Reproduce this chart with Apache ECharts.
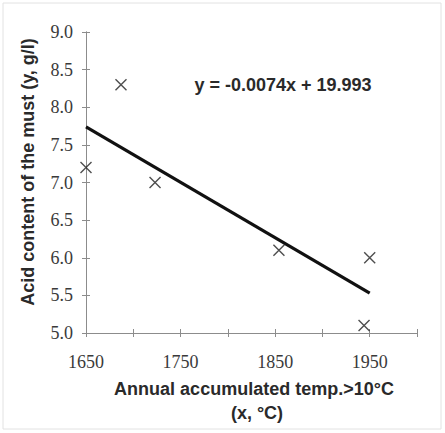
<!DOCTYPE html>
<html><head><meta charset="utf-8">
<script src="https://cdn.jsdelivr.net/npm/echarts@6/dist/echarts.min.js"></script>
<style>html,body{margin:0;padding:0;background:#fff}#c{width:445px;height:433px}</style>
</head><body><div id="c"></div>
<script>
var pointX = [1650, 1687, 1723, 1854, 1944, 1950];
var pointY = [7.2, 8.3, 7.0, 6.1, 5.1, 6.0];
var trendX = [1650, 1950];
var trendY = [7.74, 5.53];
var xLabels = ['1650', '1750', '1850', '1950'];
var equationText = 'y = -0.0074x + 19.993';
var xTitle1 = 'Annual accumulated temp.>10°C';
var xTitle2 = '(x, °C)';
var yTitle = 'Acid content of the must (y, g/l)';

var chart = echarts.init(document.getElementById('c'), null, {renderer: 'svg'});
var serif = 'Liberation Serif';
var sans = 'Liberation Sans';
var axisGray = '#8c8c8c';
function baseX(inside, labels) {
  return {
    type: 'value', min: 1650, max: 2000, interval: 50, position: 'bottom',
    axisLine: {show: true, lineStyle: {color: axisGray, width: 1}},
    axisTick: {show: true, inside: inside, length: 4, lineStyle: {color: axisGray, width: 1}},
    splitLine: {show: false},
    axisLabel: labels ? {
      show: true, margin: 20, fontFamily: serif, fontSize: 18, color: '#3a3a3a',
      formatter: function (v) { var s = String(v); return xLabels.indexOf(s) >= 0 ? s : ''; }
    } : {show: false}
  };
}
function baseY(inside, labels) {
  return {
    type: 'value', min: 5, max: 9, interval: 0.5, position: 'left',
    axisLine: {show: true, lineStyle: {color: axisGray, width: 1}},
    axisTick: {show: true, inside: inside, length: 4, lineStyle: {color: axisGray, width: 1}},
    splitLine: {show: false},
    axisLabel: labels ? {
      show: true, margin: 13, fontFamily: serif, fontSize: 18, color: '#3a3a3a',
      formatter: function (v) { return v.toFixed(1); }
    } : {show: false}
  };
}
function txt(x, y, s, rot) {
  return {type: 'text', x: x, y: y, rotation: rot || 0, silent: true,
    style: {x: 0, y: 0, text: s, fontFamily: sans, fontWeight: 'bold', fontSize: 18, fill: '#2a2a2a',
      align: 'center', verticalAlign: 'middle'}};
}
chart.setOption({
  animation: false,
  backgroundColor: '#fff',
  grid: {left: 86, right: 28, top: 32, bottom: 100},
  xAxis: [baseX(false, true), baseX(true, false)],
  yAxis: [baseY(false, true), baseY(true, false)],
  graphic: [
    {type: 'rect', x: 3, y: 3, silent: true, shape: {x: 0, y: 0, width: 438, height: 426},
     style: {fill: 'none', stroke: '#e2e2e2', lineWidth: 1}},
    txt(283, 85, equationText),
    txt(254, 389, xTitle1),
    txt(257, 413, xTitle2),
    txt(28, 172, yTitle, Math.PI / 2)
  ],
  series: [
    {type: 'line', data: trendX.map(function (x, i) { return [x, trendY[i]]; }),
     showSymbol: false, symbol: 'none', lineStyle: {color: '#111', width: 3.2}, z: 3},
    {type: 'scatter', data: pointX.map(function (x, i) { return [x, pointY[i]]; }),
     symbol: 'path://M0,0L10,10M10,0L0,10', symbolSize: 11,
     itemStyle: {color: 'none', borderColor: '#222', borderWidth: 1.4}, z: 4}
  ]
});
</script></body></html>
